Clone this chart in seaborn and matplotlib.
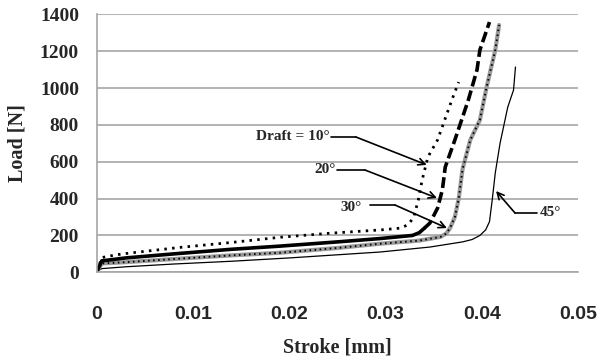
import matplotlib
matplotlib.use("Agg")
import matplotlib.pyplot as plt
import seaborn as sns
import pandas as pd

# Load–stroke curves for four draft angles
stroke_10 = [0, 0.0005, 0.002, 0.0035, 0.0086, 0.014, 0.019, 0.0242, 0.0295, 0.0316,
             0.0323, 0.0329, 0.0334, 0.0338, 0.0344, 0.0354, 0.0364, 0.0370, 0.0376]
load_10 = [5, 80, 95, 105, 135, 162, 190, 212, 230, 240,
           258, 295, 392, 501, 626, 718, 864, 951, 1032]

stroke_20 = [0, 0.0005, 0.003, 0.008, 0.014, 0.019, 0.025, 0.0294, 0.0328, 0.0335,
             0.0340, 0.0346, 0.0354, 0.0359, 0.0362, 0.0372, 0.0386, 0.0395, 0.0398, 0.0408]
load_20 = [5, 62, 78, 100, 125, 142, 165, 183, 200, 215,
           238, 267, 348, 447, 571, 718, 935, 1098, 1206, 1358]
knee_20 = 10  # index where the 20° curve turns steep

stroke_30 = [0, 0.0005, 0.003, 0.008, 0.014, 0.019, 0.025, 0.0294, 0.0335, 0.0357,
             0.0363, 0.0367, 0.0372, 0.0376, 0.0380, 0.0388, 0.0398, 0.0405, 0.0414, 0.0418]
load_30 = [5, 48, 55, 72, 92, 106, 132, 155, 172, 192,
           210, 240, 300, 400, 560, 718, 826, 1005, 1206, 1342]

stroke_45 = [0, 0.0005, 0.003, 0.008, 0.014, 0.020, 0.025, 0.0294, 0.0346, 0.038,
             0.039, 0.0398, 0.0404, 0.0408, 0.0411, 0.0414, 0.0419, 0.0427, 0.0433, 0.0435]
load_45 = [5, 20, 30, 45, 60, 78, 95, 110, 137, 165,
           178, 200, 230, 275, 400, 539, 701, 897, 989, 1114]

x_ticks = [0, 0.01, 0.02, 0.03, 0.04, 0.05]
x_tick_labels = ["0", "0.01", "0.02", "0.03", "0.04", "0.05"]
y_ticks = [0, 200, 400, 600, 800, 1000, 1200, 1400]

sns.set_theme(style="white")
plt.rcParams["font.family"] = ["Liberation Serif", "DejaVu Serif"]

fig = plt.figure(figsize=(6.0, 3.58), dpi=100)
ax = fig.add_axes([97 / 600, 1 - 272.3 / 358, 481 / 600, 258 / 358])

d10 = pd.DataFrame({"stroke": stroke_10, "load": load_10})
d20 = pd.DataFrame({"stroke": stroke_20, "load": load_20})
d30 = pd.DataFrame({"stroke": stroke_30, "load": load_30})
d45 = pd.DataFrame({"stroke": stroke_45, "load": load_45})

common = dict(x="stroke", y="load", sort=False, estimator=None, ax=ax, legend=False)

# 45°: thin solid
sns.lineplot(data=d45, color="black", linewidth=0.9, **common)
# 30°: grey band with black dots on top
sns.lineplot(data=d30, color="#9a9a9a", linewidth=3.0, **common)
l30 = sns.lineplot(data=d30, color="black", linewidth=1.4, **common).lines[-1]
l30.set_dashes((0.8, 1.8))
# 20°: heavy line, dashed through the steep part
sns.lineplot(data=d20.iloc[:knee_20 + 1], color="black", linewidth=2.6, **common)
l20 = sns.lineplot(data=d20.iloc[knee_20:], color="black", linewidth=2.6, **common).lines[-1]
l20.set_dashes((3.0, 1.2))
# 10°: dotted
l10 = sns.lineplot(data=d10, color="black", linewidth=2.0, **common).lines[-1]
l10.set_dashes((0.9, 1.9))

ax.set_xlim(0, 0.05)
ax.set_ylim(0, 1400)
ax.set_xticks(x_ticks)
ax.set_xticklabels(x_tick_labels, family=["Liberation Sans", "DejaVu Sans"],
                   fontweight="bold", fontsize=14)
ax.set_yticks(y_ticks)
ax.set_yticklabels([str(v) for v in y_ticks], fontweight="bold", fontsize=14)
ax.tick_params(axis="x", length=0, pad=24)
ax.tick_params(axis="y", length=0, pad=13)

ax.yaxis.grid(True, color="#a6a6a6", linewidth=1.2)
ax.xaxis.grid(False)
ax.set_axisbelow(True)
for side in ("top", "right"):
    ax.spines[side].set_visible(False)
for side in ("left", "bottom"):
    ax.spines[side].set_color("#a6a6a6")
    ax.spines[side].set_linewidth(1.2)

ax.set_xlabel("Stroke [mm]", fontweight="bold", fontsize=14.5)
ax.set_ylabel("Load [N]", fontweight="bold", fontsize=14.5)
ax.xaxis.label.set_va("center")
ax.xaxis.set_label_coords(0.499, -0.29)
ax.yaxis.label.set_va("center")
ax.yaxis.set_label_coords(-0.166, 0.5)

# Callouts: label, short leader, arrow to the curve
arrow = dict(arrowstyle="->", color="black", lw=1.2, mutation_scale=12,
             shrinkA=0, shrinkB=0)
label_kw = dict(fontweight="bold", fontsize=11, va="center")

ax.text(0.02422, 739, "Draft = 10°", ha="right", **label_kw)
ax.plot([0.02432, 0.02692], [734, 734], color="black", lw=1.2)
ax.annotate("", xy=(0.03427, 583), xytext=(0.02692, 734), arrowprops=arrow)

ax.text(0.02484, 560, "20°", ha="right", **label_kw)
ax.plot([0.02495, 0.02786], [555, 555], color="black", lw=1.2)
ax.annotate("", xy=(0.03534, 403), xytext=(0.02786, 555), arrowprops=arrow)

ax.text(0.02755, 354, "30°", ha="right", **label_kw)
ax.plot([0.02838, 0.03098], [365, 365], color="black", lw=1.2)
ax.annotate("", xy=(0.03638, 240), xytext=(0.03098, 365), arrowprops=arrow)

ax.text(0.04605, 327, "45°", ha="left", **label_kw)
ax.plot([0.04574, 0.04345], [322, 322], color="black", lw=1.2)
ax.annotate("", xy=(0.04148, 441), xytext=(0.04345, 322), arrowprops=arrow)

fig.savefig("out.png", dpi=100)
